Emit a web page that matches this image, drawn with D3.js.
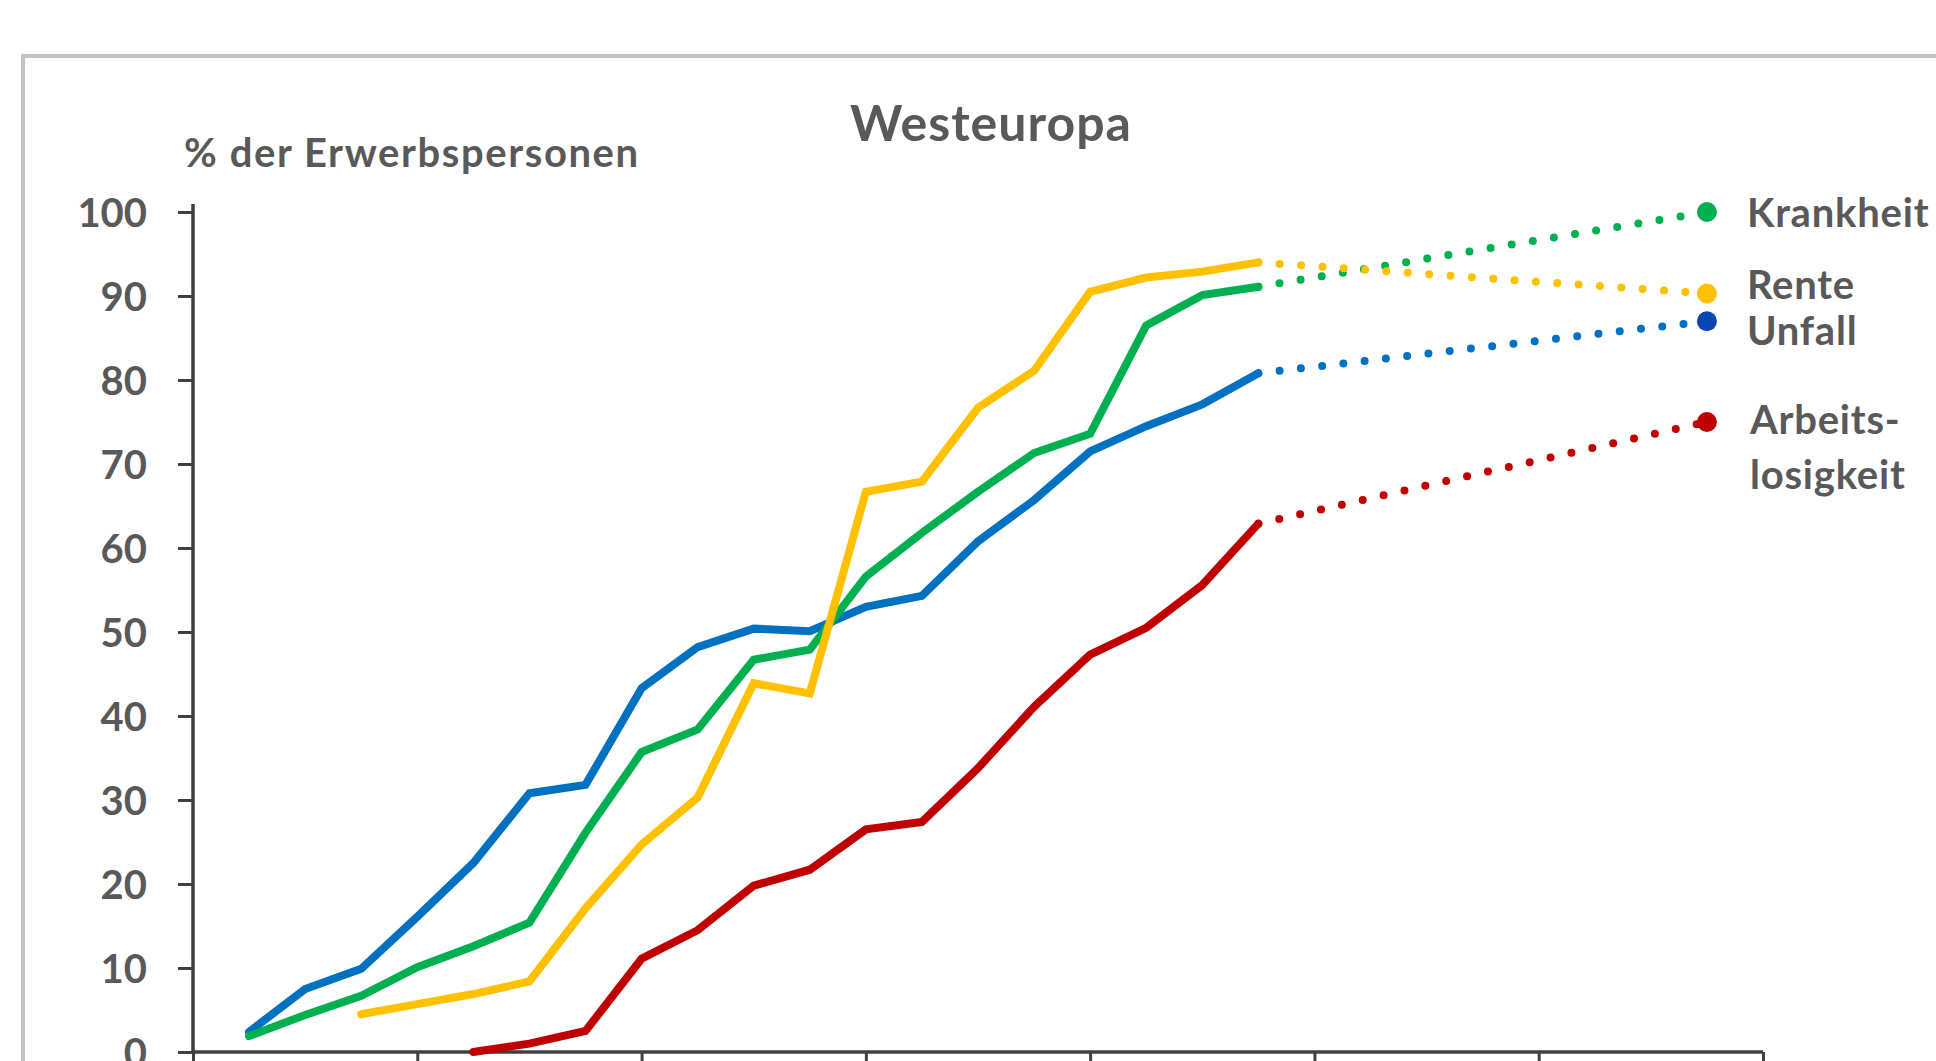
<!DOCTYPE html>
<html>
<head>
<meta charset="utf-8">
<script src="https://cdn.jsdelivr.net/npm/d3@7"></script>
<style>
  body { margin: 0; background: #fff; overflow: hidden; }
  text { font-family: Lato, 'Open Sans', sans-serif; font-weight: bold; fill: #595959; }
</style>
</head>
<body>
<div id="chart"></div>
<script>
// Westeuropa - Anteil der Erwerbspersonen mit Sozialversicherung

var years = [1885, 1890, 1895, 1900, 1905, 1910, 1915, 1920, 1925, 1930,
  1935, 1940, 1945, 1950, 1955, 1960, 1965, 1970, 1975];

var unfall = [2.4, 7.5, 9.9, 16.1, 22.5, 30.8, 31.8, 43.3, 48.2, 50.4,
  50.1, 53.0, 54.3, 60.8, 65.7, 71.5, 74.5, 77.1, 80.8];
var krankheit = [1.9, 4.4, 6.7, 10.1, 12.6, 15.4, 26.1, 35.7, 38.4, 46.7,
  47.9, 56.6, 61.8, 66.7, 71.3, 73.6, 86.5, 90.1, 91.1];
var rente = [null, null, 4.5, 5.7, 6.9, 8.4, 17.1, 24.7, 30.3, 43.9,
  42.7, 66.7, 67.9, 76.7, 81.1, 90.5, 92.2, 92.9, 94.0];
var arbeitslosigkeit = [null, null, null, null, 0.0, 1.0, 2.5, 11.1, 14.5, 19.8,
  21.7, 26.5, 27.4, 33.8, 41.1, 47.3, 50.5, 55.6, 62.9];

// projected end points of the dotted lines
var projYear = 2015;
var projUnfall = 87.0;
var projKrankheit = 100.0;
var projRente = 90.3;
var projArbeitslosigkeit = 75.0;

var yTicks = [0, 10, 20, 30, 40, 50, 60, 70, 80, 90, 100];
var xTicks = [1880, 1900, 1920, 1940, 1960, 1980, 2000, 2020];

var width = 1936,
  height = 1061;

var x = d3.scaleLinear().domain([1880, 2020]).range([193, 1763]);
var y = d3.scaleLinear().domain([0, 100]).range([1052, 212]);

var svg = d3
  .select('#chart')
  .append('svg')
  .attr('width', width)
  .attr('height', height);

// outer frame, runs past right and bottom edge
svg
  .append('rect')
  .attr('x', 23)
  .attr('y', 56)
  .attr('width', 2000)
  .attr('height', 1100)
  .attr('fill', 'none')
  .attr('stroke', '#c3c3c6')
  .attr('stroke-width', 4);

// titles
svg
  .append('text')
  .attr('x', 991)
  .attr('y', 141)
  .attr('text-anchor', 'middle')
  .style('font-size', '50px')
  .style('letter-spacing', '1px')
  .text('Westeuropa');

svg
  .append('text')
  .attr('x', 184)
  .attr('y', 167)
  .style('font-size', '40px')
  .style('letter-spacing', '1.6px')
  .text('% der Erwerbspersonen');

// axes
var yAxis = d3
  .axisLeft(y)
  .tickValues(yTicks)
  .tickSize(15)
  .tickSizeOuter(0)
  .tickPadding(31);

var xAxis = d3
  .axisBottom(x)
  .tickValues(xTicks)
  .tickSize(15)
  .tickSizeOuter(0)
  .tickFormat('');

var gy = svg
  .append('g')
  .attr('transform', 'translate(' + x(1880) + ',0)')
  .call(yAxis);

var gx = svg
  .append('g')
  .attr('transform', 'translate(0,' + y(0) + ')')
  .call(xAxis);

[gx, gy].forEach(function(g) {
  g.select('.domain').remove();
  g.selectAll('.tick line')
    .attr('stroke', '#404040')
    .attr('stroke-width', 3);
});

gy.selectAll('.tick text')
  .attr('dy', '0.36em')
  .style('font-size', '40px')
  .style('font-family', null)
  .attr('fill', null);

svg
  .append('line')
  .attr('x1', x(1880))
  .attr('x2', x(1880))
  .attr('y1', y(100) - 8)
  .attr('y2', y(0) + 1.5)
  .attr('stroke', '#404040')
  .attr('stroke-width', 3.5);

svg
  .append('line')
  .attr('x1', x(1880))
  .attr('x2', x(2020))
  .attr('y1', y(0))
  .attr('y2', y(0))
  .attr('stroke', '#404040')
  .attr('stroke-width', 3.5);

// series, drawn bottom to top
var series = [
  { name: 'Unfall', values: unfall, proj: projUnfall, color: '#0070c0', marker: '#0a46b0',
    label: ['Unfall'], dx: 40, dy: 24 },
  { name: 'Krankheit', values: krankheit, proj: projKrankheit, color: '#00b050', marker: '#00b050',
    label: ['Krankheit'], dx: 40, dy: 14.5 },
  { name: 'Rente', values: rente, proj: projRente, color: '#ffc000', marker: '#ffc000',
    label: ['Rente'], dx: 40, dy: 6 },
  { name: 'Arbeitslosigkeit', values: arbeitslosigkeit, proj: projArbeitslosigkeit, color: '#c00000', marker: '#c00000',
    label: ['Arbeits-', 'losigkeit'], dx: 43, dy: 11.5 }
];

var valueLine = d3
  .line()
  .defined(function(d) {
    return d.v != null;
  })
  .x(function(d) {
    return x(d.year);
  })
  .y(function(d) {
    return y(d.v);
  });

series.forEach(function(s) {
  var pts = years.map(function(yr, i) {
    return { year: yr, v: s.values[i] };
  });
  var last = pts[pts.length - 1];

  // dotted projection
  svg
    .append('path')
    .attr('d', valueLine([last, { year: projYear, v: s.proj }]))
    .attr('fill', 'none')
    .attr('stroke', s.color)
    .attr('stroke-width', 8)
    .attr('stroke-linecap', 'round')
    .attr('stroke-dasharray', '0 21.4');

  svg
    .append('path')
    .attr('d', valueLine(pts))
    .attr('fill', 'none')
    .attr('stroke', s.color)
    .attr('stroke-width', 8)
    .attr('stroke-linecap', 'round');

  svg
    .append('circle')
    .attr('cx', x(projYear))
    .attr('cy', y(s.proj))
    .attr('r', 10)
    .attr('fill', s.marker);

  var t = svg
    .append('text')
    .attr('x', x(projYear) + s.dx)
    .attr('y', y(s.proj) + s.dy)
    .style('font-size', '40px')
    .style('letter-spacing', '0.8px');
  s.label.forEach(function(line, i) {
    t.append('tspan')
      .attr('x', x(projYear) + s.dx)
      .attr('dy', i === 0 ? 0 : 55)
      .text(line);
  });
});
</script>
</body>
</html>
